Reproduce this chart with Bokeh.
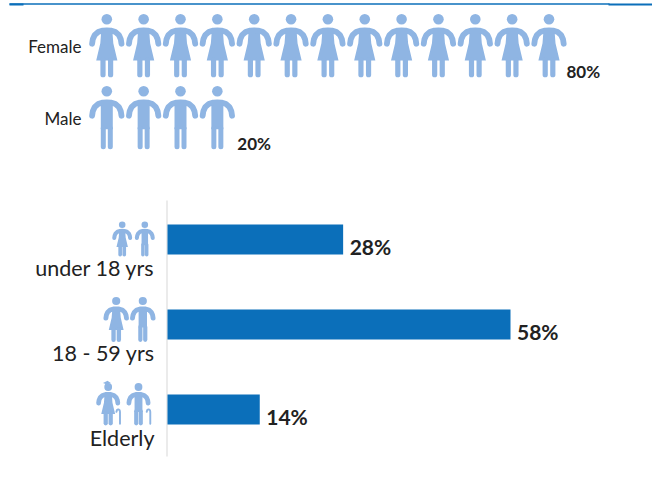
from bokeh.plotting import figure
from bokeh.layouts import column
from bokeh.models import Range1d
from bokeh.models import ColumnDataSource
from bokeh.core.properties import value
from bokeh.embed import file_html
from bokeh.resources import INLINE

# ---- data
gender_labels = ["Female", "Male"]
gender_icons = [13, 4]
gender_pct = ["80%", "20%"]
age_labels = ["under 18 yrs", "18 - 59 yrs", "Elderly"]
age_bar_lengths = [29.7, 58.0, 15.6]   # as drawn in the picture
age_pct = ["28%", "58%", "14%"]

# ---- style and layout
ICON = "#8fb5e3"
BLUE = "#0b6fba"
INK = "#222222"
FONT = value("Lato")
W, TOP_H, BOT_H = 652, 154, 340
STEP = 36.85
FIRST_X = 106.3
ROW_HEAD_Y = [18.7, 90.7]
ROW_LABEL_Y = [45.5, 117.5]
PCT_Y = [70.5, 142.5]
PCT_GAP = [17.5, 20]
BAR_SCALE = (510 - 167) / 58


class Icons:
    def __init__(self):
        self.px, self.py, self.lx, self.ly, self.lw = [], [], [], [], []
        self.hx, self.hy, self.hs = [], [], []

    def line(self, pts, cx, cy, s, w):
        self.lx.append([cx + a * s for a, _ in pts])
        self.ly.append([cy + b * s for _, b in pts])
        self.lw.append(w * s)

    def poly(self, pts, cx, cy, s):
        self.px.append([cx + a * s for a, _ in pts])
        self.py.append([cy + b * s for _, b in pts])

    def person(self, kind, cx, cy, s=1.0, elderly=False, thick=1.0):
        self.hx.append(cx)
        self.hy.append(cy)
        self.hs.append(10.6 * s * (1 + (thick - 1) / 2))
        arm = [(-14.7, 24.5), (-14, 20), (-12.2, 16), (-8.8, 12.9), (-4, 11.4), (0, 11.2),
               (4, 11.4), (8.8, 12.9), (12.2, 16), (14, 20), (14.7, 24.5)]
        self.line(arm, cx, cy, s, 5.8 * thick)
        if kind == "f":
            self.poly([(-5.5, 11), (5.5, 11), (6.5, 24), (10.6, 41.3), (-10.6, 41.3), (-6.5, 24)], cx, cy, s)
            self.line([(-3.8, 41), (-3.8, 55.5)], cx, cy, s, 5.2 * thick)
            self.line([(3.8, 41), (3.8, 55.5)], cx, cy, s, 5.2 * thick)
        else:
            self.poly([(-6, 11), (6, 11), (6, 38), (-6, 38)], cx, cy, s)
            self.line([(-3.5, 37), (-3.5, 55.5)], cx, cy, s, 5 * thick)
            self.line([(3.5, 37), (3.5, 55.5)], cx, cy, s, 5 * thick)
        if elderly:
            self.line([(18, 56), (18, 38), (17.5, 35.5), (15.5, 34), (13.5, 35), (12.5, 38)], cx, cy, s, 2.9)
            if kind == "f":
                self.poly([(-8, -6), (-1, -9.5), (4, -6), (-2, -4)], cx, cy, s)

    def draw(self, p, **ranges):
        p.patches(self.px, self.py, fill_color=ICON, line_color=None, **ranges)
        src = ColumnDataSource(dict(x=self.lx, y=self.ly, w=self.lw))
        p.multi_line("x", "y", source=src, line_color=ICON, line_width="w", line_cap="round", **ranges)
        src2 = ColumnDataSource(dict(x=self.hx, y=self.hy, s=self.hs))
        p.scatter("x", "y", size="s", source=src2, marker="circle", fill_color=ICON, line_color=None, **ranges)


def clean(p):
    p.xgrid.visible = False
    p.ygrid.visible = False
    p.axis.visible = False
    p.outline_line_color = None
    p.min_border = 0
    p.min_border_left = p.min_border_right = p.min_border_top = p.min_border_bottom = 0


# ---- top: pictogram rows
top = figure(width=W, height=TOP_H, x_range=Range1d(0, W), y_range=Range1d(TOP_H, 0),
             output_backend="svg", toolbar_location=None)
clean(top)
top.segment([9], [3.5], [609], [3.5], line_color=BLUE, line_width=1.3)
top.segment([9, 608], [4, 4], [23, 652], [4, 4], line_color=BLUE, line_width=2.2)

icons = Icons()
end_x = []
for row, n in enumerate(gender_icons):
    for i in range(n):
        icons.person("f" if row == 0 else "m", FIRST_X + i * STEP, ROW_HEAD_Y[row])
    end_x.append(FIRST_X + (n - 1) * STEP + PCT_GAP[row])
icons.draw(top)

top.text([81] * 2, ROW_LABEL_Y, text=gender_labels, text_font=FONT, text_font_size="17px",
         text_color=INK, text_align="right", text_baseline="middle")
top.text(end_x, PCT_Y, text=gender_pct, text_font=FONT, text_font_size="17px", text_font_style="bold",
         text_color=INK, text_align="left", text_baseline="middle")

# ---- bottom: bar chart by age (rows 0, 1, 2 from the top)
rows = list(range(len(age_labels)))
bot = figure(width=W, height=BOT_H,
             x_range=Range1d(-167 / BAR_SCALE, (W - 167) / BAR_SCALE),
             y_range=Range1d(3, -1),
             output_backend="svg", toolbar_location=None)
clean(bot)
bot.extra_x_ranges = {"px": Range1d(0, W)}
bot.extra_y_ranges = {"py": Range1d(TOP_H + BOT_H, TOP_H)}

bot.segment([166.5], [200], [166.5], [456], line_color="#e4e4e4", line_width=1.5,
            x_range_name="px", y_range_name="py")
bot.hbar(y=rows, right=age_bar_lengths, left=0, height=30 / 85, fill_color=BLUE, line_color=None)
bot.text(age_bar_lengths, rows, text=age_pct, x_offset=6.5, y_offset=6.5, text_font=FONT,
         text_font_size="21px", text_font_style="bold", text_color=INK,
         text_align="left", text_baseline="middle")
bot.text([154] * 3, rows, text=age_labels, y_offset=28.5, text_font=FONT, text_font_size="21.5px",
         text_color=INK, text_align="right", text_baseline="middle", x_range_name="px")

small = Icons()
small.person("f", 121.7, 224.3, 0.54, thick=1.3)
small.person("m", 144.3, 224.3, 0.54, thick=1.3)
small.person("f", 115.7, 300.5, 0.70, thick=1.2)
small.person("m", 142.3, 300.5, 0.70, thick=1.2)
small.person("f", 107.7, 386.5, 0.655, elderly=True, thick=1.25)
small.person("m", 138.0, 386.5, 0.655, elderly=True, thick=1.25)
small.draw(bot, x_range_name="px", y_range_name="py")

page = column(top, bot, spacing=0, styles={"position": "absolute", "left": "0px", "top": "0px"})
open("out.html", "w").write(file_html(page, INLINE))
